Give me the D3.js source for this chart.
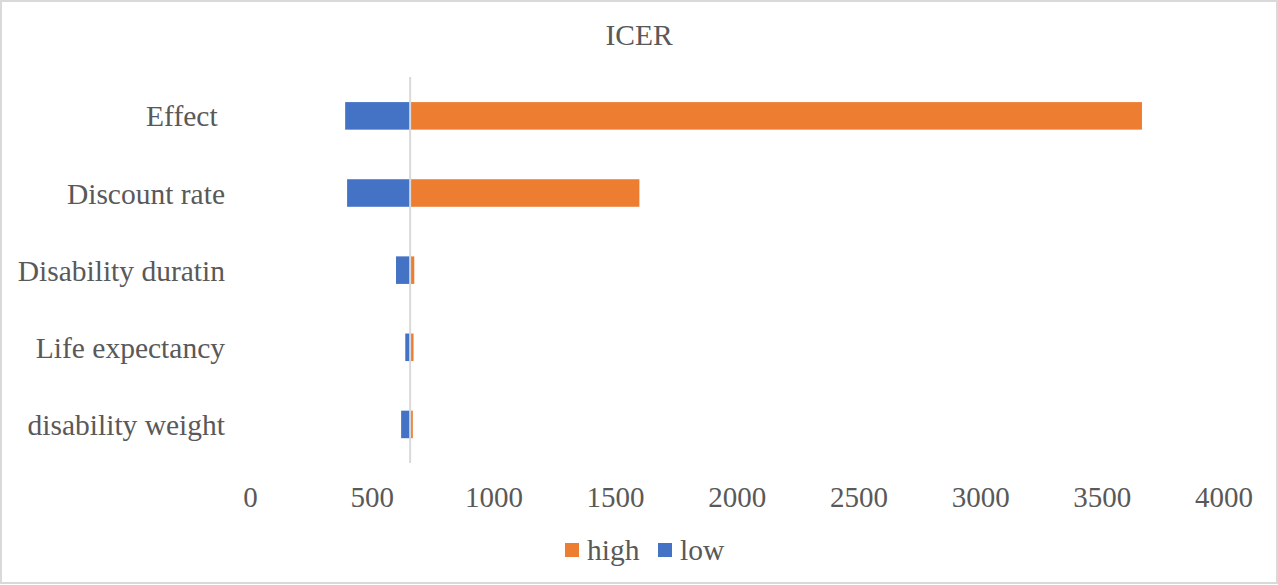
<!DOCTYPE html>
<html>
<head>
<meta charset="utf-8">
<script src="https://cdn.jsdelivr.net/npm/d3@7"></script>
<style>
  html, body { margin: 0; padding: 0; background: #fff; }
  svg text { font-family: "Liberation Serif", "Times New Roman", serif; fill: #595959; }
</style>
</head>
<body>
<svg id="chart" width="1278" height="585"></svg>
<script>
// One-way sensitivity analysis of the ICER (tornado layout)
const categories = ["Effect ", "Discount rate", "Disability duratin", "Life expectancy", "disability weight"];
const baseICER = 658;
const lowValues = [391, 399, 600, 638, 621];
const highValues = [3665, 1600, 675, 672, 669];
const xTicks = [0, 500, 1000, 1500, 2000, 2500, 3000, 3500, 4000];
const seriesNames = ["high", "low"];
const seriesColors = { high: "#ED7D31", low: "#4472C4" };

const svg = d3.select("#chart");
const W = 1278, H = 585;

// Outer frame
svg.append("rect")
  .attr("x", 1).attr("y", 1).attr("width", W - 2).attr("height", H - 3)
  .attr("fill", "#fff").attr("stroke", "#d9d9d9").attr("stroke-width", 2);

const x = d3.scaleLinear().domain([0, 4000]).range([250, 1223.5]);
const y = d3.scaleBand().domain(categories).range([77.3, 463])
  .paddingInner(1.8 / 2.8).paddingOuter(0.9 / 2.8);

// Title
svg.append("text")
  .attr("x", 639).attr("y", 45)
  .attr("text-anchor", "middle")
  .style("font-size", "29.5px")
  .text("ICER");

// Bars: low side runs left of the base value, high side runs right
const rows = categories.map((c, i) => ({ cat: c, low: lowValues[i], high: highValues[i] }));

svg.append("g").selectAll("rect.low").data(rows).join("rect")
  .attr("class", "low")
  .attr("x", d => x(Math.min(d.low, baseICER)))
  .attr("width", d => Math.abs(x(baseICER) - x(d.low)))
  .attr("y", d => y(d.cat))
  .attr("height", y.bandwidth())
  .attr("fill", seriesColors.low);

svg.append("g").selectAll("rect.high").data(rows).join("rect")
  .attr("class", "high")
  .attr("x", d => x(Math.min(d.high, baseICER)))
  .attr("width", d => Math.abs(x(d.high) - x(baseICER)))
  .attr("y", d => y(d.cat))
  .attr("height", y.bandwidth())
  .attr("fill", seriesColors.high);

// Vertical category axis crossing at the base value
svg.append("line")
  .attr("x1", x(baseICER)).attr("x2", x(baseICER))
  .attr("y1", 77).attr("y2", 463)
  .attr("stroke", "#d9d9d9").attr("stroke-width", 2);

// Category labels
const yAxis = svg.append("g")
  .attr("transform", `translate(225,0)`)
  .call(d3.axisLeft(y).tickSize(0).tickPadding(0));
yAxis.select(".domain").remove();
yAxis.selectAll("text")
  .attr("x", 0).attr("dy", "0.36em")
  .style("font-size", "29.5px")
  .style("white-space", "pre")
  .attr("font-family", null);

// Value axis labels
const xAxis = svg.append("g")
  .attr("transform", `translate(0,507)`)
  .call(d3.axisBottom(x).tickValues(xTicks).tickSize(0).tickFormat(d3.format("d")));
xAxis.select(".domain").remove();
xAxis.selectAll("text")
  .attr("y", 0).attr("dy", null)
  .style("font-size", "29px")
  .attr("font-family", null);

// Legend
const legend = svg.append("g").attr("transform", "translate(565,560)");
const legendX = { high: 0, low: 93 };
seriesNames.forEach(name => {
  const g = legend.append("g").attr("transform", `translate(${legendX[name]},0)`);
  g.append("rect").attr("x", 0).attr("y", -17).attr("width", 14).attr("height", 14)
    .attr("fill", seriesColors[name]);
  g.append("text").attr("x", 22).attr("y", 0).style("font-size", "29.5px").text(name);
});
</script>
</body>
</html>
